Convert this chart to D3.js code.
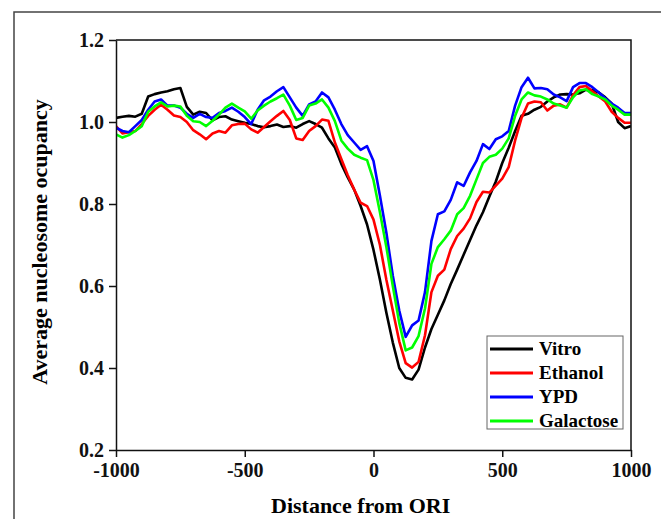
<!DOCTYPE html>
<html>
<head>
<meta charset="utf-8">
<script src="https://cdn.jsdelivr.net/npm/d3@7"></script>
<style>
  body { margin: 0; background: #fff; }
  svg { display: block; font-family: "Liberation Serif", "Times New Roman", serif; font-weight: bold; }
  .axis path, .axis line { stroke: #111; stroke-width: 1.5; }
  .axis text { font-size: 20px; font-weight: bold; fill: #111; font-family: "Liberation Serif", serif; }
</style>
</head>
<body>
<svg id="chart" width="661" height="519"></svg>
<script>
// distance from ORI (bp)
var distance = [
  -1000, -975, -950, -925, -900, -875, -850, -825, -800, -775,
  -750, -725, -700, -675, -650, -625, -600, -575, -550, -525,
  -500, -475, -450, -425, -400, -375, -350, -325, -300, -275,
  -250, -225, -200, -175, -150, -125, -100, -75, -50, -25,
  0, 25, 50, 75, 100, 125, 150, 175, 200, 225,
  250, 275, 300, 325, 350, 375, 400, 425, 450, 475,
  500, 525, 550, 575, 600, 625, 650, 675, 700, 725,
  750, 775, 800, 825, 850, 875, 900, 925, 950, 975, 1000
];
var vitro = [
  1.010, 1.013, 1.015, 1.013, 1.020, 1.062, 1.068, 1.072, 1.075, 1.080,
  1.083, 1.037, 1.018, 1.025, 1.022, 1.004, 1.012, 1.014, 1.006, 1.002,
  0.998, 0.995, 0.990, 0.987, 0.990, 0.994, 0.988, 0.990, 0.986, 0.995,
  1.002, 0.995, 0.986, 0.960, 0.938, 0.898, 0.865, 0.835, 0.795, 0.750,
  0.688, 0.615, 0.535, 0.462, 0.400, 0.376, 0.372, 0.396, 0.450, 0.495,
  0.530, 0.565, 0.605, 0.640, 0.676, 0.712, 0.748, 0.780, 0.818, 0.855,
  0.900, 0.937, 0.978, 1.015, 1.020, 1.030, 1.037, 1.050, 1.060, 1.067,
  1.068, 1.067, 1.070, 1.079, 1.078, 1.072, 1.060, 1.045, 1.000, 0.985, 0.990
];
var ethanol = [
  0.990, 0.972, 0.975, 0.978, 0.995, 1.015, 1.030, 1.042, 1.030, 1.016,
  1.012, 1.000, 0.980, 0.970, 0.958, 0.972, 0.978, 0.974, 0.992, 0.995,
  0.996, 0.982, 0.974, 0.988, 1.002, 1.015, 1.027, 1.005, 0.960, 0.956,
  0.978, 0.990, 1.006, 1.003, 0.950, 0.910, 0.870, 0.835, 0.803, 0.795,
  0.762, 0.700, 0.615, 0.540, 0.465, 0.412, 0.401, 0.415, 0.480, 0.585,
  0.625, 0.640, 0.690, 0.722, 0.740, 0.765, 0.805, 0.830, 0.828, 0.845,
  0.862, 0.890, 0.955, 1.010, 1.045, 1.050, 1.048, 1.028, 1.040, 1.043,
  1.035, 1.065, 1.085, 1.088, 1.075, 1.062, 1.050, 1.025, 1.010, 0.998, 0.998
];
var ypd = [
  0.986, 0.978, 0.975, 0.990, 1.005, 1.030, 1.050, 1.055, 1.040, 1.040,
  1.035, 1.020, 1.010, 1.020, 1.012, 1.010, 1.022, 1.027, 1.035, 1.025,
  1.012, 0.995, 1.030, 1.053, 1.062, 1.075, 1.085, 1.060, 1.035, 1.015,
  1.043, 1.050, 1.072, 1.060, 1.030, 0.995, 0.968, 0.950, 0.932, 0.941,
  0.905, 0.820, 0.730, 0.625, 0.540, 0.476, 0.504, 0.516, 0.585, 0.710,
  0.775, 0.782, 0.810, 0.853, 0.844, 0.877, 0.905, 0.946, 0.934, 0.958,
  0.965, 0.978, 1.040, 1.085, 1.108, 1.082, 1.083, 1.080, 1.067, 1.060,
  1.051, 1.085, 1.095, 1.095, 1.085, 1.072, 1.058, 1.045, 1.035, 1.022, 1.022
];
var galactose = [
  0.970, 0.962, 0.968, 0.978, 0.990, 1.025, 1.038, 1.048, 1.038, 1.040,
  1.038, 1.015, 1.002, 1.000, 0.990, 1.003, 1.018, 1.035, 1.045, 1.035,
  1.026, 1.008, 1.028, 1.040, 1.050, 1.058, 1.067, 1.040, 1.005, 1.010,
  1.040, 1.045, 1.055, 1.035, 1.002, 0.955, 0.935, 0.920, 0.913, 0.907,
  0.858, 0.780, 0.695, 0.600, 0.510, 0.443, 0.450, 0.478, 0.545, 0.654,
  0.695, 0.714, 0.735, 0.775, 0.790, 0.820, 0.860, 0.900, 0.915, 0.920,
  0.935, 0.960, 1.015, 1.055, 1.072, 1.065, 1.062, 1.055, 1.045, 1.040,
  1.035, 1.060, 1.077, 1.080, 1.068, 1.062, 1.055, 1.040, 1.030, 1.018, 1.018
];
var seriesNames = ['Vitro', 'Ethanol', 'YPD', 'Galactose'];
var seriesColors = ['#000000', '#ff0000', '#0000ff', '#00ff00'];
var seriesValues = [vitro, ethanol, ypd, galactose];
var xTicks = [-1000, -500, 0, 500, 1000];
var yTicks = [0.2, 0.4, 0.6, 0.8, 1.0, 1.2];

var margin = { top: 40, right: 30, bottom: 69, left: 116 };
var width = 661 - margin.left - margin.right;
var height = 519 - margin.top - margin.bottom;

var root = d3.select('#chart');

// outer frame of the figure
root.append('rect')
  .attr('x', 14).attr('y', 12)
  .attr('width', 700).attr('height', 600)
  .attr('fill', 'none')
  .attr('stroke', '#444')
  .attr('stroke-width', 1.5);

var svg = root.append('g')
  .attr('transform', 'translate(' + margin.left + ',' + margin.top + ')');

var x = d3.scaleLinear().domain([-1000, 1000]).range([0, width]);
var y = d3.scaleLinear().domain([0.2, 1.2]).range([height, 0]);

svg.append('defs').append('clipPath').attr('id', 'plot-clip')
  .append('rect').attr('width', width).attr('height', height);

// lines
var line = d3.line()
  .x(function (d) { return x(d[0]); })
  .y(function (d) { return y(d[1]); });

var lines = svg.append('g').attr('clip-path', 'url(#plot-clip)');
seriesValues.forEach(function (vals, i) {
  lines.append('path')
    .datum(distance.map(function (d, j) { return [d, vals[j]]; }))
    .attr('fill', 'none')
    .attr('stroke', seriesColors[i])
    .attr('stroke-width', 2.6)
    .attr('stroke-linejoin', 'round')
    .attr('d', line);
});

// top and right edges of the plot box
svg.append('path')
  .attr('d', 'M0,0H' + width + 'V' + height)
  .attr('fill', 'none')
  .attr('stroke', '#111')
  .attr('stroke-width', 1.5);

svg.append('g')
  .attr('class', 'axis axis--x')
  .attr('transform', 'translate(0,' + height + ')')
  .call(d3.axisBottom(x).tickValues(xTicks).tickSize(7).tickSizeOuter(0).tickPadding(6)
    .tickFormat(function (d) { return String(d); }));

svg.append('g')
  .attr('class', 'axis axis--y')
  .call(d3.axisLeft(y).tickValues(yTicks).tickSize(7).tickSizeOuter(0).tickPadding(5).tickFormat(d3.format('.1f')));

// axis titles
svg.append('text')
  .attr('x', x(-50))
  .attr('y', height + 63)
  .attr('text-anchor', 'middle')
  .style('font-size', '22px')
  .text('Distance from ORI');

svg.append('text')
  .attr('transform', 'rotate(-90)')
  .attr('x', -(y(0.7)) + 3)
  .attr('y', -69)
  .attr('text-anchor', 'middle')
  .style('font-size', '22px')
  .text('Average nucleosome ocupancy');

// legend
var legend = svg.append('g')
  .attr('transform', 'translate(' + (487 - margin.left) + ',' + (336 - margin.top) + ')');
legend.append('rect')
  .attr('width', 136).attr('height', 93)
  .attr('fill', '#fff')
  .attr('stroke', '#666')
  .attr('stroke-width', 1);
seriesNames.forEach(function (name, i) {
  var row = legend.append('g').attr('transform', 'translate(0,' + (13 + i * 24) + ')');
  row.append('line')
    .attr('x1', 3).attr('x2', 46)
    .attr('stroke', seriesColors[i])
    .attr('stroke-width', 3);
  row.append('text')
    .attr('x', 52).attr('y', 6)
    .style('font-size', '19px')
    .text(name);
});
</script>
</body>
</html>
